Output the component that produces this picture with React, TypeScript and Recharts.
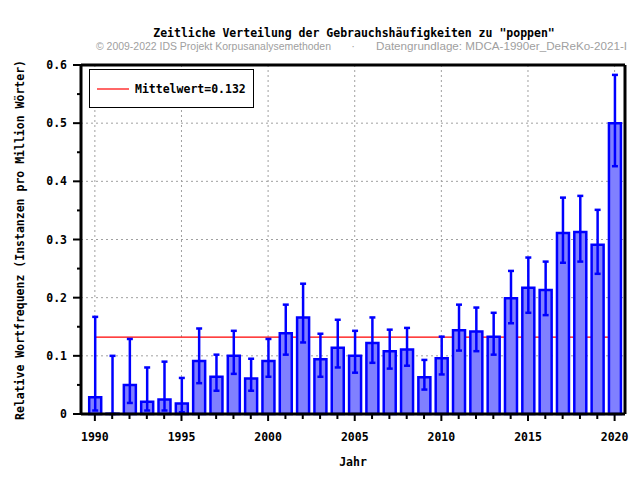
import React from "react";
import {
  ComposedChart,
  Bar,
  Line,
  XAxis,
  YAxis,
  CartesianGrid,
  ErrorBar,
  Legend,
} from "recharts";

// values
const years = [
  1990, 1991, 1992, 1993, 1994, 1995, 1996, 1997, 1998, 1999, 2000, 2001, 2002,
  2003, 2004, 2005, 2006, 2007, 2008, 2009, 2010, 2011, 2012, 2013, 2014, 2015,
  2016, 2017, 2018, 2019, 2020,
];
// 1991 has (almost) no hits, only its upper error bound shows
const freq = [
  0.029, 0.0005, 0.05, 0.021, 0.025, 0.018, 0.091, 0.064, 0.1, 0.061, 0.091, 0.139,
  0.166, 0.094, 0.114, 0.1, 0.122, 0.108, 0.111, 0.063, 0.096, 0.144, 0.142,
  0.133, 0.199, 0.217, 0.213, 0.311, 0.313, 0.291, 0.5,
];
const errLow = [
  0.006, 0, 0.019, 0.006, 0.006, 0.003, 0.053, 0.04, 0.069, 0.04, 0.064, 0.102,
  0.123, 0.064, 0.08, 0.071, 0.088, 0.078, 0.083, 0.042, 0.068, 0.109, 0.108,
  0.102, 0.156, 0.174, 0.17, 0.26, 0.262, 0.241, 0.426,
];
const errHigh = [
  0.167, 0.1, 0.129, 0.08, 0.09, 0.062, 0.147, 0.102, 0.143, 0.095, 0.129,
  0.188, 0.224, 0.138, 0.162, 0.143, 0.166, 0.145, 0.148, 0.093, 0.133, 0.188,
  0.183, 0.174, 0.246, 0.269, 0.262, 0.372, 0.375, 0.351, 0.583,
];
const meanValue = 0.132;

const yTicks = [
  0, 0.05, 0.1, 0.15, 0.2, 0.25, 0.3, 0.35, 0.4, 0.45, 0.5, 0.55, 0.6,
];
const yGrid = [0.1, 0.2, 0.3, 0.4, 0.5];
const xGrid = [1990, 1995, 2000, 2005, 2010, 2015, 2020];

const data = years.map((year, i) => ({
  year,
  freq: freq[i],
  err: [Math.max(freq[i] - errLow[i], 0), errHigh[i] - freq[i]],
  mean: meanValue,
}));

const W = 640;
const H = 480;
const LEFT = 81;
const TOP = 65;
const RIGHT = 625;
const BOTTOM = 414;
const MONO = "'DejaVu Sans Mono', monospace";

const XTick = (props: any) => {
  const v = props.payload.value;
  const major = v % 5 === 0;
  return (
    <g>
      <line x1={props.x} x2={props.x} y1={BOTTOM} y2={BOTTOM + (major ? 7 : 5)} stroke="#000" strokeWidth={2} />
      {major && (
        <text x={props.x} y={441} textAnchor="middle" fontFamily={MONO} fontWeight="bold" fontSize={11.5} fill="#000">
          {v}
        </text>
      )}
    </g>
  );
};

const YTick = (props: any) => {
  const v = props.payload.value;
  const major = Math.round(v * 100) % 10 === 0;
  return (
    <g>
      <line x1={LEFT} x2={LEFT - (major ? 8 : 4)} y1={props.y} y2={props.y} stroke="#000" strokeWidth={2} />
      {major && (
        <text x={67} y={props.y + 4} textAnchor="end" fontFamily={MONO} fontWeight="bold" fontSize={11.5} fill="#000">
          {v === 0 ? "0" : v.toFixed(1)}
        </text>
      )}
    </g>
  );
};

const MeanLegend = () => (
  <div
    style={{
      width: 165,
      height: 39,
      border: "1px solid #000",
      boxSizing: "border-box",
      background: "#fff",
    }}
  >
    <svg width={163} height={37}>
      <line x1={7} x2={39} y1={19} y2={19} stroke="#ff0000" strokeWidth={1.2} />
      <text x={45} y={23} fontFamily={MONO} fontWeight="bold" fontSize={11.5} fill="#000">
        Mittelwert={meanValue}
      </text>
    </svg>
  </div>
);

export default function App() {
  return (
    <div style={{ position: "absolute", left: 0, top: 0, width: W, height: H, background: "#fff" }}>
      <ComposedChart
        width={W}
        height={H}
        data={data}
        margin={{ top: TOP - 1, right: W - RIGHT - 1, bottom: H - BOTTOM - 1, left: LEFT - 1 }}
      >
        <CartesianGrid
          stroke="#a0a0a0"
          strokeDasharray="2 3"
          horizontalValues={yGrid}
          verticalValues={xGrid}
        />
        <XAxis
          dataKey="year"
          type="number"
          domain={[1989.2, 2020.6]}
          allowDataOverflow
          ticks={years}
          interval={0}
          height={1}
          tickLine={false}
          tick={<XTick />}
          axisLine={{ stroke: "#000", strokeWidth: 3 }}
        />
        <XAxis
          xAxisId="top"
          orientation="top"
          dataKey="year"
          type="number"
          domain={[1989.2, 2020.6]}
          allowDataOverflow
          height={1}
          tick={false}
          tickLine={false}
          axisLine={{ stroke: "#000", strokeWidth: 3 }}
        />
        <YAxis
          type="number"
          domain={[0, 0.6]}
          ticks={yTicks}
          interval={0}
          width={1}
          tickLine={false}
          tick={<YTick />}
          axisLine={{ stroke: "#000", strokeWidth: 3 }}
        />
        <YAxis
          yAxisId="right"
          orientation="right"
          type="number"
          domain={[0, 0.6]}
          width={1}
          tick={false}
          tickLine={false}
          axisLine={{ stroke: "#000", strokeWidth: 3 }}
        />
        <Legend
          layout="vertical"
          align="center"
          verticalAlign="middle"
          wrapperStyle={{ left: 89, top: 69, width: 165, height: 39 }}
          content={<MeanLegend />}
        />
        <Line
          dataKey="mean"
          stroke="#ff0000"
          strokeWidth={1.2}
          dot={false}
          activeDot={false}
          isAnimationActive={false}
          zIndex={250}
        />
        <Bar
          dataKey="freq"
          barSize={12}
          fill="#8080ff"
          stroke="#0000ff"
          strokeWidth={2.5}
          isAnimationActive={false}
        >
          <ErrorBar dataKey="err" width={3} stroke="#0000ff" strokeWidth={2.5} direction="y" />
        </Bar>
      </ComposedChart>
      <svg
        width={W}
        height={H}
        style={{ position: "absolute", left: 0, top: 0, pointerEvents: "none" }}
      >
        <text x={354} y={37} textAnchor="middle" fontFamily={MONO} fontWeight="bold" fontSize={11.5} fill="#000">
          Zeitliche Verteilung der Gebrauchshäufigkeiten zu "poppen"
        </text>
        <text x={96} y={50} fontFamily="'Liberation Sans', Arial, sans-serif" fontSize={11} fill="#a0a0a0" textLength={235} lengthAdjust="spacingAndGlyphs">
          © 2009-2022 IDS Projekt Korpusanalysemethoden
        </text>
        <text x={353} y={50} textAnchor="middle" fontFamily="'Liberation Sans', Arial, sans-serif" fontSize={11} fill="#a0a0a0">
          ·
        </text>
        <text x={376} y={50} fontFamily="'Liberation Sans', Arial, sans-serif" fontSize={11} fill="#a0a0a0" textLength={251} lengthAdjust="spacingAndGlyphs">
          Datengrundlage: MDCA-1990er_DeReKo-2021-I
        </text>
        <text x={353} y={466} textAnchor="middle" fontFamily={MONO} fontWeight="bold" fontSize={11.5} fill="#000">
          Jahr
        </text>
        <text
          x={24}
          y={240}
          transform="rotate(-90 24 240)"
          textAnchor="middle"
          fontFamily={MONO}
          fontWeight="bold"
          fontSize={11.5}
          fill="#000"
        >
          Relative Wortfrequenz (Instanzen pro Million Wörter)
        </text>
      </svg>
    </div>
  );
}
